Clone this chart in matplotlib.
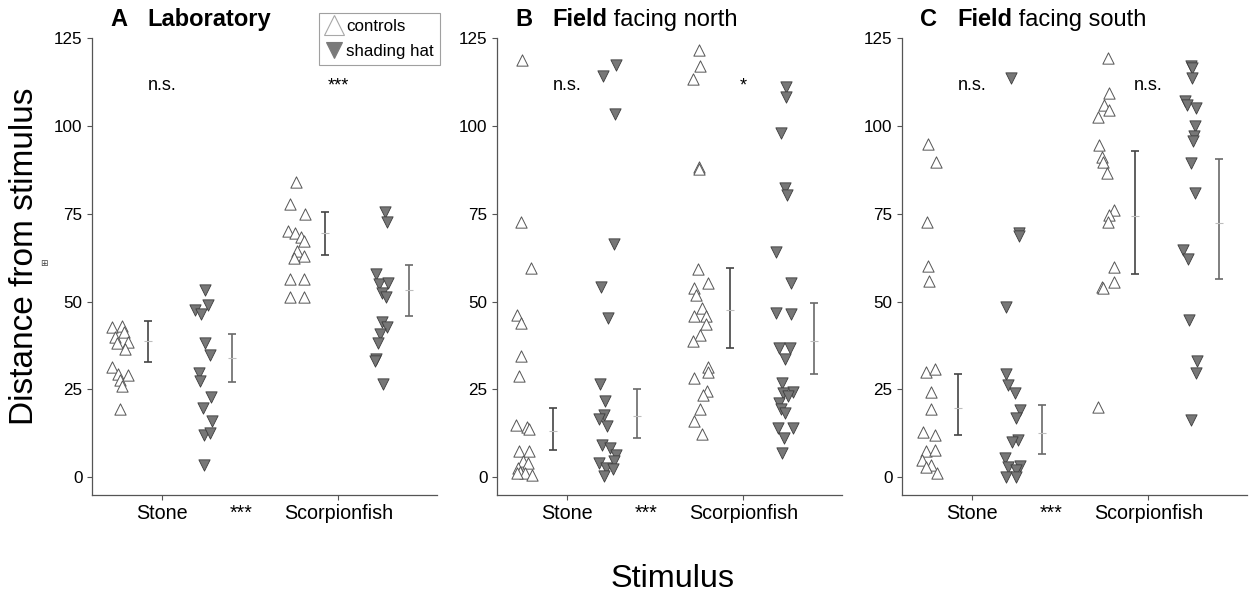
import matplotlib
matplotlib.use("Agg")
import matplotlib.pyplot as plt
from matplotlib.lines import Line2D

plt.rcParams["font.family"] = ["Liberation Sans", "DejaVu Sans"]

# ---------------------------------------------------------------- data
stimuli = ["Stone", "Scorpionfish"]
panel_letters = ["A", "B", "C"]
panel_bold = ["Laboratory", "Field", "Field"]
panel_rest = ["", " facing north", " facing south"]
ytick_values = [0, 25, 50, 75, 100, 125]

# distances (controls / shading hat) per panel and stimulus, with per-point jitter
lab_ctrl_stone = [42.7, 43.0, 39.9, 41.3, 38.4, 38.2, 36.6, 31.5, 29.4, 29.2, 27.8, 26.1, 19.3]
lab_ctrl_stone_jit = [-0.044, 0.016, -0.029, 0.022, 0.047, -0.016, 0.033, -0.044, -0.012, 0.047, 0.003, 0.016, 0.003]
lab_hat_stone = [53.4, 49.2, 47.5, 46.5, 38.2, 34.9, 29.7, 27.5, 22.8, 19.6, 15.9, 11.9, 12.5, 3.6]
lab_hat_stone_jit = [0.007, 0.026, -0.046, -0.013, 0.011, 0.039, -0.027, -0.017, 0.043, -0.004, 0.049, 0.001, 0.035, 0.001]
lab_ctrl_scorp = [84.2, 77.7, 75.0, 70.2, 69.5, 68.3, 67.4, 64.4, 62.9, 62.5, 56.5, 56.5, 51.3, 51.3]
lab_ctrl_scorp_jit = [0.001, -0.035, 0.049, -0.044, -0.003, 0.031, 0.045, 0.007, 0.045, -0.012, -0.035, 0.045, -0.035, 0.045]
lab_hat_scorp = [75.5, 72.8, 57.9, 55.1, 55.3, 52.4, 51.3, 44.1, 42.7, 40.8, 38.2, 33.7, 33.2, 26.6]
lab_hat_scorp_jit = [0.028, 0.043, -0.019, -0.004, 0.049, 0.011, 0.034, 0.015, 0.039, 0.001, -0.008, -0.023, -0.027, 0.018]

north_ctrl_stone = [118.9, 72.6, 59.5, 46.1, 43.9, 34.6, 28.7, 14.9, 14.4, 13.7, 7.6, 7.6, 4.5, 4.0, 2.6, 1.6, 1.1, 0.7, 1.1]
north_ctrl_stone_jit = [-0.015, -0.018, 0.035, -0.046, -0.018, -0.018, -0.033, -0.050, 0.016, 0.025, -0.032, 0.025, -0.009, 0.019, -0.037, -0.028, 0.001, 0.039, -0.046]
north_hat_stone = [117.5, 114.2, 103.4, 66.5, 54.3, 45.3, 26.5, 21.6, 17.8, 16.5, 14.6, 9.2, 8.3, 6.4, 4.5, 4.0, 2.6, 2.3, 0.4]
north_hat_stone_jit = [0.045, -0.031, 0.035, 0.029, -0.044, -0.003, -0.046, -0.022, -0.026, -0.054, -0.009, -0.035, 0.007, 0.041, 0.029, -0.054, -0.012, 0.025, -0.027]
north_ctrl_scorp = [121.7, 117.2, 113.4, 88.5, 87.7, 59.3, 55.3, 54.0, 51.9, 48.1, 45.8, 45.8, 43.7, 40.6, 38.8, 31.5, 30.1, 28.4, 24.6, 23.5, 19.5, 15.9, 12.3]
north_ctrl_scorp_jit = [-0.009, -0.003, -0.047, -0.013, -0.009, -0.019, 0.038, -0.041, -0.028, 0.004, -0.041, 0.029, 0.029, -0.005, -0.043, 0.042, 0.042, -0.041, 0.032, 0.014, -0.003, -0.037, 0.006]
north_hat_scorp = [111.3, 108.3, 98.0, 82.3, 80.4, 64.1, 55.3, 46.7, 46.4, 36.8, 36.8, 33.6, 26.8, 24.4, 23.9, 23.2, 21.1, 19.4, 18.4, 14.0, 14.0, 11.1, 7.0]
north_hat_scorp_jit = [0.007, 0.007, -0.022, 0.001, 0.010, -0.050, 0.038, -0.050, 0.035, -0.031, 0.031, 0.003, -0.013, 0.044, -0.009, 0.021, -0.031, -0.022, 0.003, -0.041, 0.044, -0.003, -0.013]

south_ctrl_stone = [95.0, 89.9, 72.8, 60.2, 55.9, 30.1, 30.8, 24.4, 19.4, 13.0, 12.1, 7.5, 7.8, 4.9, 3.5, 2.8, 1.1]
south_ctrl_stone_jit = [-0.012, 0.035, -0.015, -0.009, -0.005, -0.022, 0.029, 0.005, 0.010, -0.037, 0.029, -0.018, 0.029, -0.041, 0.010, -0.022, 0.039]
south_hat_stone = [113.7, 69.5, 68.8, 48.4, 29.3, 26.3, 23.9, 19.2, 16.8, 10.6, 9.9, 5.4, 3.0, 3.2, 2.1, 0.0, 0.0]
south_hat_stone_jit = [-0.016, 0.031, 0.031, -0.040, -0.040, -0.031, 0.007, 0.039, 0.016, 0.025, -0.006, -0.050, -0.031, 0.035, 0.016, -0.040, 0.016]
south_ctrl_scorp = [119.4, 109.4, 106.1, 104.7, 102.5, 94.7, 91.2, 89.9, 86.6, 76.2, 74.7, 72.8, 60.0, 55.5, 54.3, 54.0, 20.1]
south_ctrl_scorp_jit = [0.014, 0.015, -0.009, 0.015, -0.043, -0.037, -0.022, -0.019, 0.006, 0.048, 0.015, 0.014, 0.048, 0.048, -0.024, -0.015, -0.047]
south_hat_scorp = [117.2, 116.5, 113.7, 107.2, 106.1, 105.1, 100.1, 97.1, 95.8, 89.5, 80.9, 64.8, 62.1, 44.8, 33.0, 29.6, 16.3]
south_hat_scorp_jit = [0.007, 0.012, 0.010, -0.027, -0.013, 0.035, 0.031, 0.025, 0.021, 0.007, 0.031, -0.041, -0.009, -0.003, 0.041, 0.035, 0.007]

# summary bars: mean, lower, upper for [Stone, Scorpionfish]
lab_ctrl_mean, lab_ctrl_lo, lab_ctrl_hi = [38.7, 69.5], [32.9, 63.3], [44.4, 75.5]
lab_hat_mean, lab_hat_lo, lab_hat_hi = [33.9, 53.4], [27.0, 46.0], [40.8, 60.5]
north_ctrl_mean, north_ctrl_lo, north_ctrl_hi = [13.2, 47.5], [7.8, 36.9], [19.8, 59.5]
north_hat_mean, north_hat_lo, north_hat_hi = [17.3, 38.8], [11.1, 29.3], [25.1, 49.6]
south_ctrl_mean, south_ctrl_lo, south_ctrl_hi = [19.7, 74.3], [12.1, 57.8], [29.3, 92.8]
south_hat_mean, south_hat_lo, south_hat_hi = [12.5, 72.4], [6.6, 56.4], [20.6, 90.6]

# significance labels: within-stimulus (top) and between stimuli (bottom)
sig_within = [["n.s.", "***"], ["n.s.", "*"], ["n.s.", "n.s."]]
sig_between = ["***", "***", "***"]

panels = [
    dict(ctrl=[(lab_ctrl_stone, lab_ctrl_stone_jit), (lab_ctrl_scorp, lab_ctrl_scorp_jit)],
         hat=[(lab_hat_stone, lab_hat_stone_jit), (lab_hat_scorp, lab_hat_scorp_jit)],
         ctrl_bar=(lab_ctrl_mean, lab_ctrl_lo, lab_ctrl_hi),
         hat_bar=(lab_hat_mean, lab_hat_lo, lab_hat_hi)),
    dict(ctrl=[(north_ctrl_stone, north_ctrl_stone_jit), (north_ctrl_scorp, north_ctrl_scorp_jit)],
         hat=[(north_hat_stone, north_hat_stone_jit), (north_hat_scorp, north_hat_scorp_jit)],
         ctrl_bar=(north_ctrl_mean, north_ctrl_lo, north_ctrl_hi),
         hat_bar=(north_hat_mean, north_hat_lo, north_hat_hi)),
    dict(ctrl=[(south_ctrl_stone, south_ctrl_stone_jit), (south_ctrl_scorp, south_ctrl_scorp_jit)],
         hat=[(south_hat_stone, south_hat_stone_jit), (south_hat_scorp, south_hat_scorp_jit)],
         ctrl_bar=(south_ctrl_mean, south_ctrl_lo, south_ctrl_hi),
         hat_bar=(south_hat_mean, south_hat_lo, south_hat_hi)),
]

# ---------------------------------------------------------------- style
W, H = 1249, 597
CTRL_OFF, HAT_OFF = -0.24, 0.235
CTRL_BAR_OFF, HAT_BAR_OFF = -0.078, 0.40
SPINE = "#555555"
HAT_FACE = "#777777"
HAT_EDGE = "#3c3c3c"
CTRL_EDGE = "#555555"
MS = 66

fig = plt.figure(figsize=(W / 100, H / 100), dpi=100)

ax_left_px = [92.3, 497.3, 902.3]
ax_w_px = 344.4
ax_top_px, ax_bot_px = 38.45, 494.75

for i, p in enumerate(panels):
    ax = fig.add_axes([ax_left_px[i] / W, 1 - ax_bot_px / H,
                       ax_w_px / W, (ax_bot_px - ax_top_px) / H])
    ax.set_xlim(0.605, 2.558)
    ax.set_ylim(-5, 125)

    for k in range(2):
        cat = k + 1
        vals, jit = p["ctrl"][k]
        ax.scatter([cat + CTRL_OFF + j for j in jit], vals, marker="^", s=MS,
                   facecolor="white", edgecolor=CTRL_EDGE, linewidths=0.7, zorder=3)
        vals, jit = p["hat"][k]
        ax.scatter([cat + HAT_OFF + j for j in jit], vals, marker="v", s=MS,
                   facecolor=HAT_FACE, edgecolor=HAT_EDGE, linewidths=0.6, zorder=3)

    cats = [1, 2]
    for (mean, lo, hi), off, col in [(p["ctrl_bar"], CTRL_BAR_OFF, "#444444"),
                                     (p["hat_bar"], HAT_BAR_OFF, "#6a6a6a")]:
        xs = [c + off for c in cats]
        yerr = [[m - l for m, l in zip(mean, lo)], [h - m for m, h in zip(mean, hi)]]
        ax.errorbar(xs, mean, yerr=yerr, fmt="none", ecolor=col, elinewidth=1.2,
                    capsize=3, capthick=1.2, zorder=2)
        ax.plot(xs, mean, linestyle="none", marker="_", markersize=6,
                color="#bdbdbd", markeredgewidth=0.8, zorder=2.5)

    for k in range(2):
        ax.text(k + 1, 110.3, sig_within[i][k], ha="center", va="baseline", fontsize=13)

    for side in ["top", "right"]:
        ax.spines[side].set_visible(False)
    for side in ["left", "bottom"]:
        ax.spines[side].set_color(SPINE)
        ax.spines[side].set_linewidth(0.9)

    ax.set_yticks(ytick_values)
    ax.set_yticklabels([str(v) for v in ytick_values])
    ax.tick_params(axis="y", length=3.5, width=0.8, color=SPINE, pad=3.5, labelsize=12.3)
    ax.set_xticks([1, 2])
    ax.set_xticklabels(stimuli)
    ax.tick_params(axis="x", which="major", length=3.5, width=0.8, color=SPINE, pad=3,
                   labelsize=14.2)
    ax.set_xticks([1.45], labels=[sig_between[i]], minor=True)
    ax.tick_params(axis="x", which="minor", length=0, pad=6.5, labelsize=14.2)

    # panel heading: bold letter, bold setting, regular remainder
    x_letter = (ax_left_px[i] + 18) / W
    x_title = (ax_left_px[i] + 55) / W
    y_title = 1 - 26 / H
    fig.text(x_letter, y_title, panel_letters[i], fontsize=17, fontweight="bold",
             va="baseline", ha="left")
    t = fig.text(x_title, y_title, panel_bold[i], fontsize=17, fontweight="bold",
                 va="baseline", ha="left")
    if panel_rest[i]:
        ax.annotate(panel_rest[i], xy=(1, 0), xycoords=t, fontsize=17,
                    va="bottom", ha="left", annotation_clip=False)

# legend
handles = [
    Line2D([], [], linestyle="none", marker="^", markersize=14, markerfacecolor="white",
           markeredgecolor="#a8a8a8", markeredgewidth=0.8),
    Line2D([], [], linestyle="none", marker="v", markersize=12, markerfacecolor="#7a7a7a",
           markeredgecolor="#7a7a7a", markeredgewidth=0.8),
]
leg = fig.legend(handles, ["controls", "shading hat"], loc="upper left",
                 bbox_to_anchor=(319 / W, 1 - 13 / H), borderaxespad=0,
                 fontsize=12.2, frameon=True, fancybox=False, handlelength=1.05,
                 handletextpad=0.2, borderpad=0.35, labelspacing=0.6)
leg.get_frame().set_edgecolor("#888888")
leg.get_frame().set_linewidth(0.8)

# axis titles
fig.text(25 / W, 1 - 256.5 / H, "Distance from stimulus", rotation=90,
         ha="center", va="center", fontsize=24)
fig.text(43.5 / W, 1 - 263 / H, "\u229e", ha="center", va="center", fontsize=6.5,
         color="#444444", family=["DejaVu Sans"])
fig.text(673 / W, 1 - 579 / H, "Stimulus", ha="center", va="center", fontsize=23.3)

fig.savefig("out.png", dpi=100)
